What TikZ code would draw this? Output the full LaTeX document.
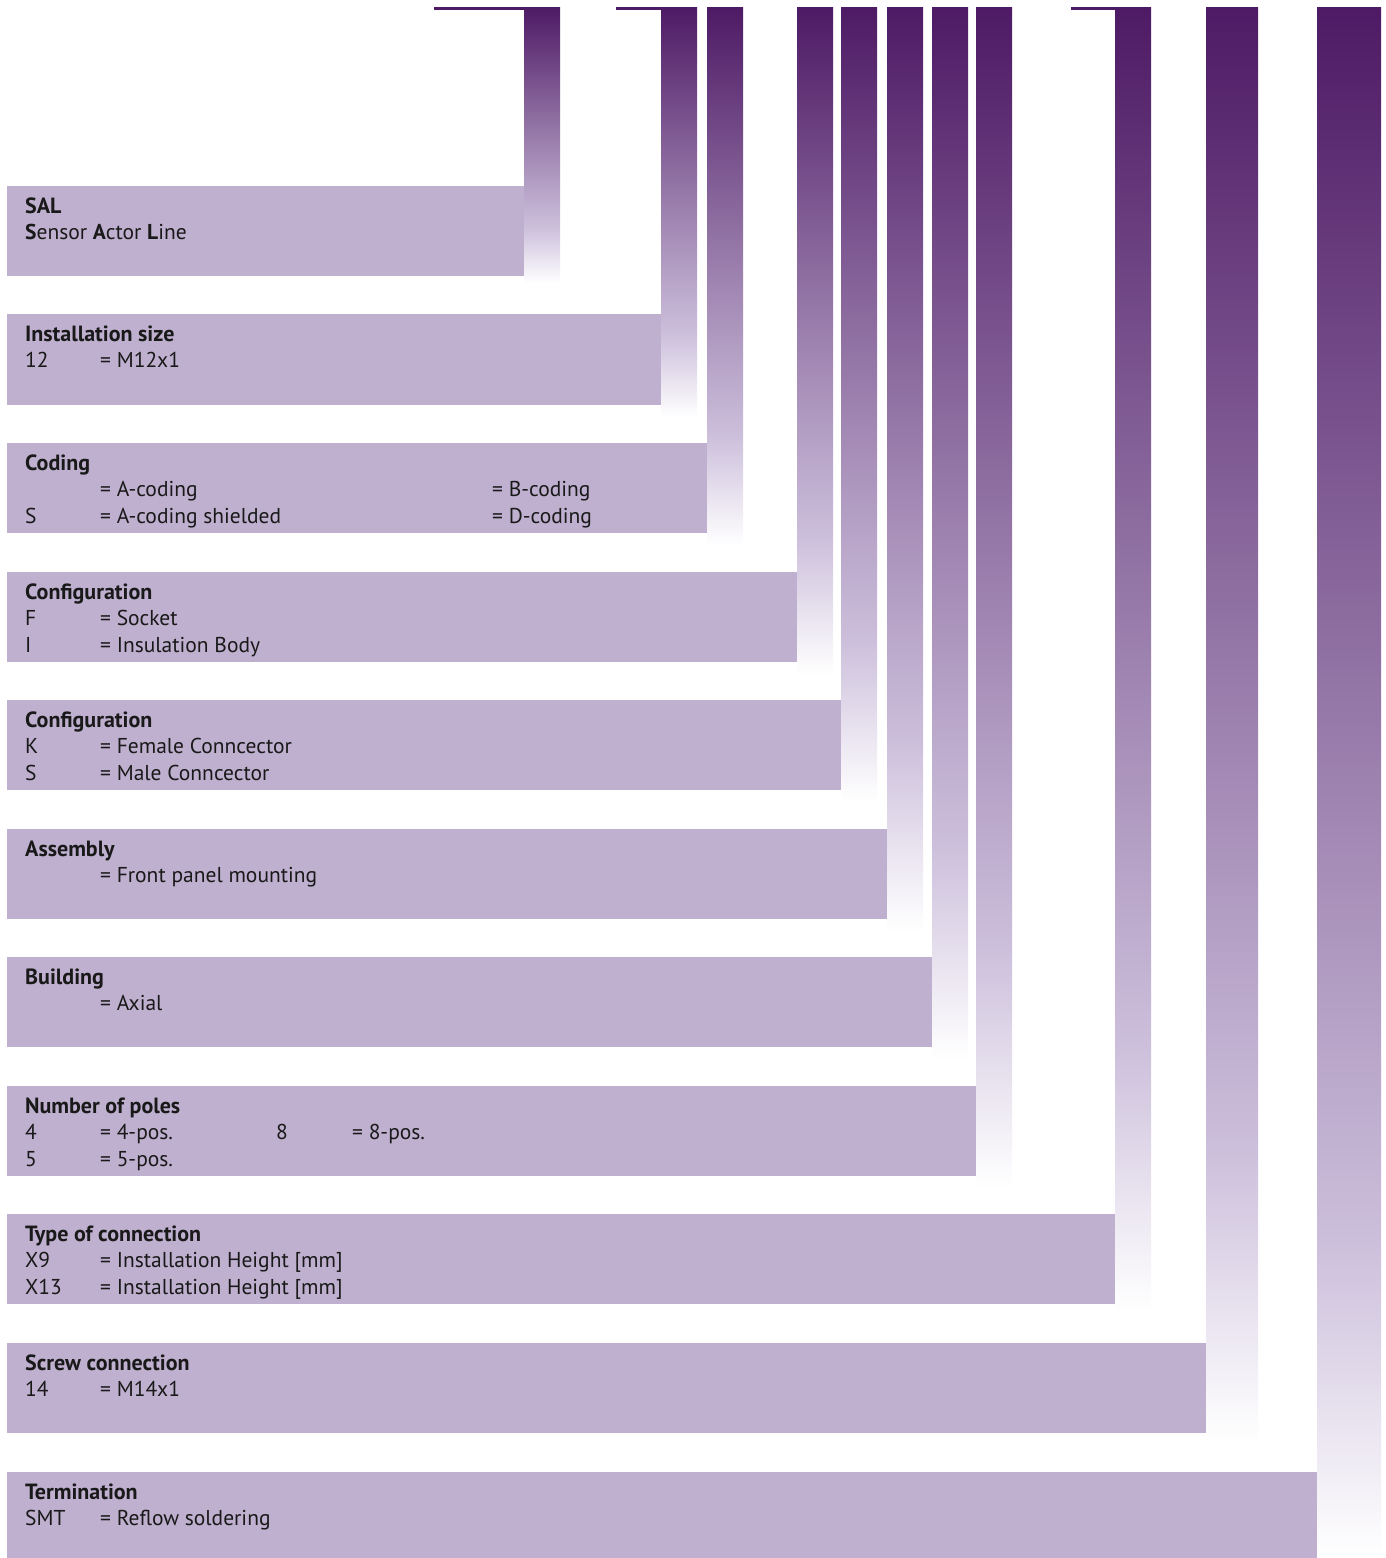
\documentclass[tikz,border=0pt]{standalone}
\usepackage{fontspec}
\setmainfont{PT Sans}
\definecolor{bardark}{RGB}{78,26,101}
\definecolor{barlav}{RGB}{205,192,220}
\definecolor{boxfill}{RGB}{191,176,207}
\definecolor{txt}{RGB}{25,25,25}
\pgfdeclareverticalshading{barshade}{100bp}{color(0bp)=(white); color(25bp)=(white); color(35bp)=(barlav); color(75bp)=(bardark); color(100bp)=(bardark)}
\begin{document}
\begin{tikzpicture}[x=1pt,y=-1pt,
  box/.style={fill=boxfill,draw=none,inner sep=0,anchor=north west},
  bar/.style={shading=barshade,draw=none,inner sep=0,anchor=north west,minimum width=36pt},
  hd/.style={inner sep=0,anchor=base west,font=\fontsize{22}{26}\selectfont\bfseries,text=txt},
  tx/.style={inner sep=0,anchor=base west,font=\fontsize{21.5}{26}\selectfont,text=txt},
  topline/.style={draw=bardark,line width=2.5pt}]
\useasboundingbox (0,0) rectangle (1386,1558);
% bars
\node[bar,minimum height=276pt] (r1) at (524,7) {};
\node[bar,minimum height=410pt] (r2) at (661,7) {};
\node[bar,minimum height=538pt] (r3) at (707,7) {};
\node[bar,minimum height=667pt] (r4) at (797,7) {};
\node[bar,minimum height=795pt] (r5) at (841,7) {};
\node[bar,minimum height=924pt] (r6) at (887,7) {};
\node[bar,minimum height=1052pt] (r7) at (932,7) {};
\node[bar,minimum height=1181pt] (r8) at (976,7) {};
\node[bar,minimum height=1304pt] (r9) at (1115,7) {};
\node[bar,minimum height=1435pt,minimum width=52pt] (r10) at (1206,7) {};
\node[bar,minimum height=1551pt,minimum width=64pt] (r11) at (1317,7) {};
% top lines
\coordinate (l1) at (434,8.3);
\coordinate (l2) at (616,8.3);
\coordinate (l3) at (1071,8.3);
\draw[topline] (l1) -- (l1 -| r1.west);
\draw[topline] (l2) -- (l2 -| r2.west);
\draw[topline] (l3) -- (l3 -| r9.west);
% boxes
\node[box,minimum width=517pt,minimum height=90pt] (b1) at (7,186) {};
\node[box,minimum width=654pt,minimum height=91pt] (b2) at (7,314) {};
\node[box,minimum width=700pt,minimum height=90pt] (b3) at (7,443) {};
\node[box,minimum width=790pt,minimum height=90pt] (b4) at (7,572) {};
\node[box,minimum width=834pt,minimum height=90pt] (b5) at (7,700) {};
\node[box,minimum width=880pt,minimum height=90pt] (b6) at (7,829) {};
\node[box,minimum width=925pt,minimum height=90pt] (b7) at (7,957) {};
\node[box,minimum width=969pt,minimum height=90pt] (b8) at (7,1086) {};
\node[box,minimum width=1108pt,minimum height=90pt] (b9) at (7,1214) {};
\node[box,minimum width=1199pt,minimum height=90pt] (b10) at (7,1343) {};
\node[box,minimum width=1310pt,minimum height=86pt] (b11) at (7,1472) {};
% texts box 1
\node[hd] (h1) at (25,213) {SAL};
\node[tx] (t1a) at (25,239.5) {\textbf{S}ensor \textbf{A}ctor \textbf{L}ine};
% box 2
\node[hd] (h2) at (25,341) {Installation size};
\node[tx] (k2a) at (25,367.5) {12};
\node[tx] (e2a) at (100,367.5) {= M12x1};
% box 3
\node[hd] (h3) at (25,470) {Coding};
\node[tx] (e3a) at (100,496.5) {= A-coding};
\node[tx] (f3a) at (492,496.5) {= B-coding};
\node[tx] (k3b) at (25,523) {S};
\node[tx] (e3b) at (100,523) {= A-coding shielded};
\node[tx] (f3b) at (492,523) {= D-coding};
% box 4
\node[hd] (h4) at (25,599) {Configuration};
\node[tx] (k4a) at (25,625.5) {F};
\node[tx] (e4a) at (100,625.5) {= Socket};
\node[tx] (k4b) at (25,652) {I};
\node[tx] (e4b) at (100,652) {= Insulation Body};
% box 5
\node[hd] (h5) at (25,727) {Configuration};
\node[tx] (k5a) at (25,753.5) {K};
\node[tx] (e5a) at (100,753.5) {= Female Conncector};
\node[tx] (k5b) at (25,780) {S};
\node[tx] (e5b) at (100,780) {= Male Conncector};
% box 6
\node[hd] (h6) at (25,856) {Assembly};
\node[tx] (e6a) at (100,882.5) {= Front panel mounting};
% box 7
\node[hd] (h7) at (25,984) {Building};
\node[tx] (e7a) at (100,1010.5) {= Axial};
% box 8
\node[hd] (h8) at (25,1113) {Number of poles};
\node[tx] (k8a) at (25,1139.5) {4};
\node[tx] (e8a) at (100,1139.5) {= 4-pos.};
\node[tx] (k8c) at (276,1139.5) {8};
\node[tx] (e8c) at (352,1139.5) {= 8-pos.};
\node[tx] (k8b) at (25,1166) {5};
\node[tx] (e8b) at (100,1166) {= 5-pos.};
% box 9
\node[hd] (h9) at (25,1241) {Type of connection};
\node[tx] (k9a) at (25,1267.5) {X9};
\node[tx] (e9a) at (100,1267.5) {= Installation Height [mm]};
\node[tx] (k9b) at (25,1294) {X13};
\node[tx] (e9b) at (100,1294) {= Installation Height [mm]};
% box 10
\node[hd] (h10) at (25,1370) {Screw connection};
\node[tx] (k10a) at (25,1396.5) {14};
\node[tx] (e10a) at (100,1396.5) {= M14x1};
% box 11
\node[hd] (h11) at (25,1499) {Termination};
\node[tx] (k11a) at (25,1525.5) {SMT};
\node[tx] (e11a) at (100,1525.5) {= Reflow soldering};
\end{tikzpicture}
\end{document}
